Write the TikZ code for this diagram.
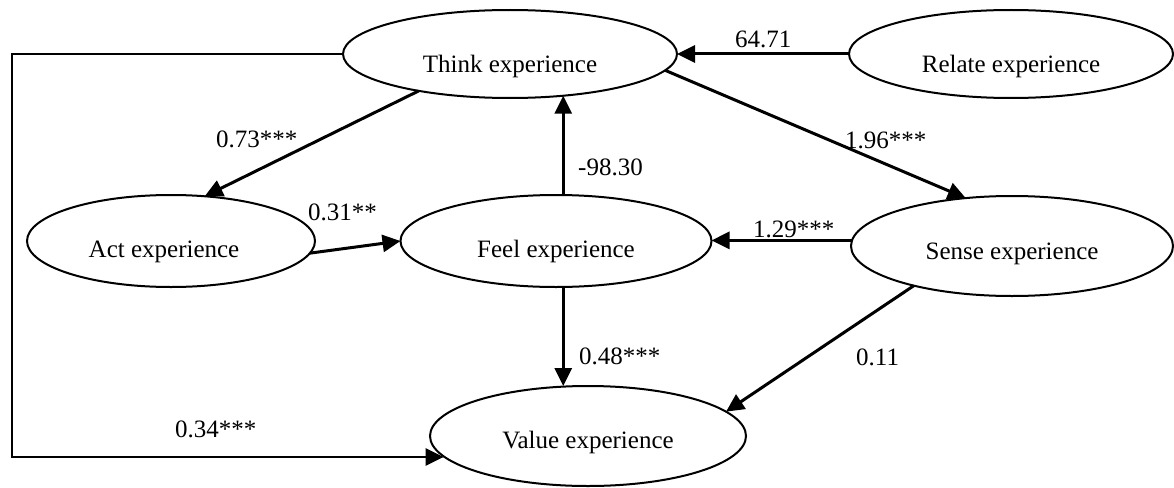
\documentclass[tikz,border=0pt]{standalone}
\usepackage{fontspec}
\setmainfont{Liberation Serif}
\usetikzlibrary{arrows.meta,shapes.geometric,calc}
\tikzset{
  var/.style={ellipse, draw, line width=2pt, inner sep=0pt, outer sep=0pt},
  txt/.style={font=\fontsize{25}{30}\selectfont, inner sep=0pt, anchor=base},
  coef/.style={font=\fontsize{25}{30}\selectfont, inner sep=0pt, anchor=base west},
  arr/.style={line width=3pt, -{Triangle[length=18pt,width=17pt]}},
  link/.style={line width=2.5pt, -{Triangle[length=18pt,width=17pt]}},
}
\begin{document}
\begin{tikzpicture}[x=1pt,y=-1pt]
\useasboundingbox (0,0) rectangle (1174,487);
% ellipses
\node[var, minimum width=334pt, minimum height=88pt] (think) at (510,54) {};
\node[var, minimum width=324pt, minimum height=88pt] (relate) at (1011,54) {};
\node[var, minimum width=288pt, minimum height=92pt] (act) at (171,241) {};
\node[var, minimum width=311pt, minimum height=92pt] (feel) at (556,241) {};
\node[var, minimum width=322pt, minimum height=100pt] (sense) at (1012,246) {};
\node[var, minimum width=316pt, minimum height=100pt] (value) at (588,436) {};
% texts
\node[txt] (think-t) at ([yshift=-18pt]think.center) {Think experience};
\node[txt] (relate-t) at ([yshift=-18pt]relate.center) {Relate experience};
\node[txt] (act-t) at ([xshift=-7pt,yshift=-16pt]act.center) {Act experience};
\node[txt] (feel-t) at ([yshift=-16pt]feel.center) {Feel experience};
\node[txt] (sense-t) at ([yshift=-13pt]sense.center) {Sense experience};
\node[txt] (value-t) at ([yshift=-12pt]value.center) {Value experience};
% connectors
\draw[arr] (relate.west) -- (think.east);
\draw[arr] (think.202) -- (act.53);
\draw[arr] (act.355) -- (feel.west);
\draw[arr] (feel.81) -- (feel.81 |- think.322);
\draw[arr] (think.354) -- (sense.134);
\draw[arr] (sense.178.6) -- (sense.178.6 -| feel.east);
\draw[arr] (feel.279) -- (feel.279 |- value.north);
\draw[arr] (sense.202) -- (value.10);
\coordinate (tl) at (12,54);
\coordinate (bl) at (12,457);
\draw[link] (think.west) -- (tl) -- (bl) -- (bl -| value.188);
% coefficients
\node[coef] (l-rt) at (735,48) {64.71};
\node[coef] (l-ta) at (216,147) {0.73***};
\node[coef] (l-af) at (308,220) {0.31**};
\node[coef] (l-ft) at (578,175) {-98.30};
\node[coef] (l-ts) at (845,148) {1.96***};
\node[coef] (l-sf) at (753,237) {1.29***};
\node[coef] (l-fv) at (579,364) {0.48***};
\node[coef] (l-sv) at (856,365) {0.11};
\node[coef] (l-tv) at (175,437) {0.34***};
\end{tikzpicture}
\end{document}
